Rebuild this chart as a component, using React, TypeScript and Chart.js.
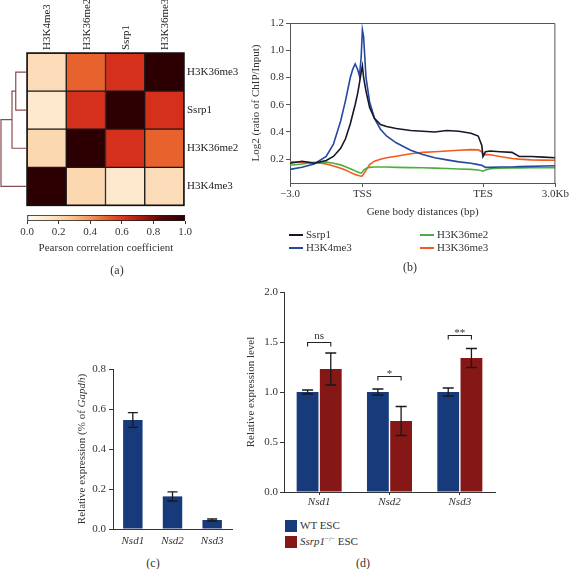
import React, { useEffect, useRef } from 'react';
import { Chart, registerables } from 'chart.js';

Chart.register(...registerables);

const SERIF = "'Liberation Serif', 'DejaVu Serif', serif";
const INK = '#333333';

// ---------- (a) correlation heatmap ----------
const heatColumns = ['H3K4me3', 'H3K36me2', 'Ssrp1', 'H3K36me3'];
const heatRows = ['H3K36me3', 'Ssrp1', 'H3K36me2', 'H3K4me3']; // top to bottom
const corrH3K36me3 = [0.18, 0.5, 0.62, 1.0];
const corrSsrp1 = [0.12, 0.62, 1.0, 0.62];
const corrH3K36me2 = [0.2, 1.0, 0.62, 0.5];
const corrH3K4me3 = [1.0, 0.2, 0.12, 0.18];
const heatMatrix = [corrH3K36me3, corrSsrp1, corrH3K36me2, corrH3K4me3];
// [nodeA, nodeB, height]; leaves 0..3 are rows top-down, merged nodes get 4,5,6
const dendroMerges = [[0, 1, 0.41], [4, 2, 0.56], [5, 3, 1.0]];
const colorbarTicks = [0, 0.2, 0.4, 0.6, 0.8, 1.0];
const cmapPos = [0, 0.15, 0.25, 0.4, 0.5, 0.62, 0.72, 0.85, 1];
const cmapCol = ['#fffaf3', '#fde3c3', '#fbcd9e', '#f3955c', '#e8622e', '#d4301c', '#a91a10', '#5a0508', '#2c0003'];

// ---------- (b) profile plot ----------
const profileX = [0, 0.5, 1.0, 1.5, 1.8, 2.1, 2.3, 2.5, 2.6, 2.7, 2.8, 2.88, 2.95, 3.0, 3.05, 3.15, 3.3, 3.5, 3.75, 4.0, 4.4, 5.0, 5.5, 6.0, 6.5, 7.0, 7.5, 7.8, 7.95, 8.0, 8.1, 8.3, 8.7, 9.2, 9.5, 10.0, 10.5, 11.0];
const ssrp1Profile = [0.17, 0.185, 0.17, 0.19, 0.22, 0.28, 0.35, 0.46, 0.53, 0.6, 0.68, 0.76, 0.84, 0.885, 0.8, 0.7, 0.58, 0.5, 0.455, 0.44, 0.425, 0.41, 0.405, 0.4, 0.41, 0.405, 0.39, 0.37, 0.3, 0.22, 0.255, 0.26, 0.255, 0.25, 0.22, 0.22, 0.215, 0.21];
const h3k4me3Profile = [0.125, 0.14, 0.165, 0.22, 0.31, 0.48, 0.63, 0.8, 0.86, 0.9, 0.86, 0.81, 0.95, 1.15, 1.1, 0.8, 0.62, 0.5, 0.42, 0.37, 0.32, 0.265, 0.235, 0.21, 0.195, 0.18, 0.17, 0.16, 0.155, 0.15, 0.14, 0.14, 0.142, 0.143, 0.145, 0.147, 0.15, 0.152];
const h3k36me2Profile = [0.155, 0.165, 0.175, 0.178, 0.17, 0.158, 0.145, 0.13, 0.122, 0.114, 0.106, 0.1, 0.097, 0.105, 0.12, 0.132, 0.14, 0.143, 0.143, 0.142, 0.14, 0.138, 0.137, 0.134, 0.131, 0.128, 0.125, 0.12, 0.115, 0.112, 0.12, 0.13, 0.133, 0.135, 0.136, 0.137, 0.138, 0.138];
const h3k36me3Profile = [0.18, 0.178, 0.175, 0.165, 0.15, 0.133, 0.12, 0.103, 0.095, 0.088, 0.082, 0.078, 0.075, 0.078, 0.09, 0.118, 0.16, 0.185, 0.2, 0.21, 0.222, 0.24, 0.25, 0.255, 0.26, 0.265, 0.27, 0.268, 0.255, 0.225, 0.235, 0.232, 0.22, 0.205, 0.2, 0.195, 0.193, 0.192];
const profileNames = ['Ssrp1', 'H3K4me3', 'H3K36me2', 'H3K36me3'];
const profileValues = [ssrp1Profile, h3k4me3Profile, h3k36me2Profile, h3k36me3Profile];
const profileColors = ['#17172b', '#2447a0', '#4cae3e', '#f4591d'];
const profileTickPos = [0, 3, 8, 11];
const profileTickLabels = ['\u22123.0', 'TSS', 'TES', '3.0Kb'];
const profileTickY = [0.2, 0.4, 0.6, 0.8, 1.0, 1.2];

// ---------- (c) ----------
const nsdGenes = ['Nsd1', 'Nsd2', 'Nsd3'];
const relExprGapdh = [0.545, 0.163, 0.045];
const relExprGapdhErr = [0.037, 0.023, 0.005];

// ---------- (d) ----------
const wtLevel = [1.0, 1.0, 1.0];
const wtErr = [0.02, 0.03, 0.04];
const koLevel = [1.23, 0.71, 1.34];
const koErr = [0.16, 0.145, 0.095];
const sigLabels = ['ns', '*', '**'];
const sigLevels = [1.5, 1.165, 1.57];

const BLUE = '#163a7a';
const RED = '#861717';

function hexToRgb(h: string) {
  const n = parseInt(h.slice(1), 16);
  return [(n >> 16) & 255, (n >> 8) & 255, n & 255];
}
function cmap(v: number) {
  for (let i = 1; i < cmapPos.length; i++) {
    if (v <= cmapPos[i]) {
      const t = (v - cmapPos[i - 1]) / (cmapPos[i] - cmapPos[i - 1]);
      const a = hexToRgb(cmapCol[i - 1]);
      const b = hexToRgb(cmapCol[i]);
      return `rgb(${a.map((c, k) => Math.round(c + (b[k] - c) * t)).join(',')})`;
    }
  }
  return cmapCol[cmapCol.length - 1];
}

const base: any = {
  responsive: false,
  animation: false,
  devicePixelRatio: 1,
  events: [],
  plugins: { legend: { display: false }, tooltip: { enabled: false } },
};

const dendroPlugin = {
  id: 'dendro',
  afterDraw(chart: any) {
    const { ctx, chartArea } = chart;
    const y = chart.scales.y;
    const leafX = chartArea.left - 1;
    const rootX = 1;
    const hx = (h: number) => leafX - h * (leafX - rootX);
    const nodes: { x: number; y: number }[] = heatRows.map((_, i) => ({
      x: leafX,
      y: y.getPixelForValue(heatRows.length - 0.5 - i),
    }));
    ctx.save();
    ctx.strokeStyle = '#8a4b4e';
    ctx.lineWidth = 1.2;
    dendroMerges.forEach(([a, b, h]) => {
      const A = nodes[a];
      const B = nodes[b];
      const X = hx(h);
      ctx.beginPath();
      ctx.moveTo(A.x, A.y);
      ctx.lineTo(X, A.y);
      ctx.lineTo(X, B.y);
      ctx.lineTo(B.x, B.y);
      ctx.stroke();
      nodes.push({ x: X, y: (A.y + B.y) / 2 });
    });
    ctx.strokeStyle = '#111';
    ctx.lineWidth = 1.5;
    ctx.strokeRect(chartArea.left, chartArea.top, chartArea.width, chartArea.height);
    ctx.restore();
  },
};

const framePlugin = {
  id: 'frame',
  afterDraw(chart: any) {
    const { ctx, chartArea } = chart;
    ctx.save();
    ctx.strokeStyle = '#555';
    ctx.lineWidth = 1;
    ctx.beginPath();
    ctx.moveTo(chartArea.left, chartArea.top + 0.5);
    ctx.lineTo(chartArea.right - 0.5, chartArea.top + 0.5);
    ctx.lineTo(chartArea.right - 0.5, chartArea.bottom);
    ctx.stroke();
    ctx.restore();
  },
};

function errorBars(errs: number[][], cap: number) {
  return {
    id: 'errbars',
    afterDatasetsDraw(chart: any) {
      const { ctx } = chart;
      const y = chart.scales.y;
      ctx.save();
      ctx.strokeStyle = '#1a1a1a';
      ctx.lineWidth = 1.3;
      chart.data.datasets.forEach((ds: any, di: number) => {
        const meta = chart.getDatasetMeta(di);
        meta.data.forEach((bar: any, i: number) => {
          const v = ds.data[i];
          const e = errs[di][i];
          const yt = y.getPixelForValue(v + e);
          const yb = y.getPixelForValue(v - e);
          ctx.beginPath();
          ctx.moveTo(bar.x, yb);
          ctx.lineTo(bar.x, yt);
          ctx.moveTo(bar.x - cap, yt);
          ctx.lineTo(bar.x + cap, yt);
          ctx.moveTo(bar.x - cap, yb);
          ctx.lineTo(bar.x + cap, yb);
          ctx.stroke();
        });
      });
      ctx.restore();
    },
  };
}

function richYTitle(x: number, segments: { text: string; italic?: boolean }[], size: number) {
  return {
    id: 'richTitle',
    afterDraw(chart: any) {
      const { ctx, chartArea } = chart;
      const font = (s: any) => `${s.italic ? 'italic ' : ''}${size}px ${SERIF}`;
      ctx.save();
      ctx.translate(x, (chartArea.top + chartArea.bottom) / 2);
      ctx.rotate(-Math.PI / 2);
      ctx.fillStyle = INK;
      ctx.textBaseline = 'middle';
      ctx.textAlign = 'left';
      let total = 0;
      segments.forEach((s) => {
        ctx.font = font(s);
        total += ctx.measureText(s.text).width;
      });
      let cx = -total / 2;
      segments.forEach((s) => {
        ctx.font = font(s);
        ctx.fillText(s.text, cx, 0);
        cx += ctx.measureText(s.text).width;
      });
      ctx.restore();
    },
  };
}

const sigPlugin = {
  id: 'sig',
  afterDraw(chart: any) {
    const { ctx } = chart;
    const y = chart.scales.y;
    const m0 = chart.getDatasetMeta(0);
    const m1 = chart.getDatasetMeta(1);
    ctx.save();
    ctx.strokeStyle = '#222';
    ctx.lineWidth = 1.1;
    ctx.fillStyle = INK;
    ctx.textAlign = 'center';
    ctx.textBaseline = 'bottom';
    ctx.font = `11px ${SERIF}`;
    sigLabels.forEach((lab, i) => {
      const x0 = m0.data[i].x;
      const x1 = m1.data[i].x;
      const yy = Math.round(y.getPixelForValue(sigLevels[i])) + 0.5;
      ctx.beginPath();
      ctx.moveTo(x0, yy + 4);
      ctx.lineTo(x0, yy);
      ctx.lineTo(x1, yy);
      ctx.lineTo(x1, yy + 4);
      ctx.stroke();
      ctx.fillText(lab, (x0 + x1) / 2, yy - (lab === 'ns' ? 1 : -3));
    });
    ctx.restore();
  },
};

const abs = (left: number, top: number, extra: any = {}) => ({ position: 'absolute' as const, left, top, ...extra });

export default function App() {
  const heatRef = useRef<HTMLCanvasElement>(null);
  const cbarRef = useRef<HTMLCanvasElement>(null);
  const profRef = useRef<HTMLCanvasElement>(null);
  const cRef = useRef<HTMLCanvasElement>(null);
  const dRef = useRef<HTMLCanvasElement>(null);

  useEffect(() => {
    Chart.defaults.font.family = SERIF;
    Chart.defaults.font.size = 11;
    Chart.defaults.color = INK;
    const charts: Chart[] = [];

    // (a) heatmap
    charts.push(
      new Chart(heatRef.current!, {
        type: 'bar',
        data: {
          labels: heatColumns,
          datasets: heatRows
            .map((_, r) => r)
            .reverse()
            .map((r) => ({
              label: heatRows[r],
              data: heatColumns.map(() => 1),
              backgroundColor: heatMatrix[r].map(cmap),
              borderColor: '#1a1a1a',
              borderWidth: 1,
              borderSkipped: false,
              barPercentage: 1,
              categoryPercentage: 1,
            })),
        },
        options: {
          ...base,
          layout: { padding: { left: 27, right: 0, top: 0, bottom: 3 } },
          scales: {
            x: {
              type: 'category',
              position: 'top',
              stacked: true,
              grid: { display: false, drawTicks: false },
              border: { display: false },
              ticks: { autoSkip: false, minRotation: 90, maxRotation: 90, padding: 3, labelOffset: 14, color: '#222' },
              afterFit: (s: any) => {
                s.height = 53;
              },
            },
            y: {
              type: 'linear',
              position: 'right',
              stacked: true,
              min: 0,
              max: heatRows.length,
              grid: { display: false, drawTicks: false },
              border: { display: false },
              afterBuildTicks: (s: any) => {
                s.ticks = heatRows.map((_, i) => ({ value: heatRows.length - 0.5 - i }));
              },
              ticks: {
                padding: 3,
                color: '#222',
                callback: (v: any) => heatRows[Math.round(heatRows.length - 0.5 - Number(v))],
              },
              afterFit: (s: any) => {
                s.width = 66;
              },
            },
          },
        } as any,
        plugins: [dendroPlugin],
      })
    );

    // colour bar
    charts.push(
      new Chart(cbarRef.current!, {
        type: 'bar',
        data: {
          labels: [''],
          datasets: [
            {
              data: [1],
              backgroundColor: (c: any) => {
                const ch = c.chart;
                const area = ch.chartArea;
                if (!area) return '#fff';
                const g = ch.ctx.createLinearGradient(area.left, 0, area.right, 0);
                cmapPos.forEach((p, i) => g.addColorStop(p, cmapCol[i]));
                return g;
              },
              borderColor: '#1a1a1a',
              borderWidth: 1,
              borderSkipped: false,
              barPercentage: 1,
              categoryPercentage: 1,
            },
          ],
        },
        options: {
          ...base,
          indexAxis: 'y',
          layout: { padding: { left: 27, right: 65, top: 10, bottom: 0 } },
          scales: {
            x: {
              type: 'linear',
              min: 0,
              max: 1,
              afterBuildTicks: (s: any) => {
                s.ticks = colorbarTicks.map((v) => ({ value: v }));
              },
              ticks: { padding: 2, callback: (v: any) => Number(v).toFixed(1) },
              grid: { display: true, drawOnChartArea: false, tickLength: 3, color: '#333' },
              border: { display: false },
              title: { display: true, text: 'Pearson correlation coefficient', padding: { top: 0, bottom: 6 } },
              afterFit: (s: any) => {
                s.height = 40;
              },
            },
            y: { display: false },
          },
        } as any,
      })
    );

    // (b) profile
    charts.push(
      new Chart(profRef.current!, {
        type: 'line',
        data: {
          datasets: profileNames.map((n, k) => ({
            label: n,
            data: profileX.map((x, i) => ({ x, y: profileValues[k][i] })),
            borderColor: profileColors[k],
            borderWidth: 1.6,
            pointRadius: 0,
            tension: 0,
            fill: false,
          })),
        },
        options: {
          ...base,
          layout: { padding: { left: 0, right: 13, top: 23, bottom: 0 } },
          scales: {
            x: {
              type: 'linear',
              min: 0,
              max: 11,
              afterBuildTicks: (s: any) => {
                s.ticks = profileTickPos.map((v) => ({ value: v }));
              },
              ticks: { padding: 1, maxRotation: 0, autoSkip: false, callback: (_v: any, i: number) => profileTickLabels[i] },
              grid: { drawOnChartArea: false, tickLength: 4, color: '#555' },
              border: { color: '#555' },
              title: { display: true, text: 'Gene body distances (bp)', padding: { top: 0, bottom: 3 } },
              afterFit: (s: any) => {
                s.height = 39;
              },
            },
            y: {
              type: 'linear',
              min: 0.025,
              max: 1.2,
              afterBuildTicks: (s: any) => {
                s.ticks = profileTickY.map((v) => ({ value: v }));
              },
              ticks: { padding: 2, callback: (v: any) => Number(v).toFixed(1) },
              grid: { drawOnChartArea: false, tickLength: 4, color: '#555' },
              border: { color: '#555' },
              title: { display: true, text: 'Log2 (ratio of ChIP/Input)', padding: { top: 0, bottom: 0 } },
              afterFit: (s: any) => {
                s.width = 40;
              },
            },
          },
        } as any,
        plugins: [framePlugin],
      })
    );

    // (c)
    charts.push(
      new Chart(cRef.current!, {
        type: 'bar',
        data: {
          labels: nsdGenes,
          datasets: [
            { data: relExprGapdh, backgroundColor: BLUE, barPercentage: 0.49, categoryPercentage: 1 },
          ],
        },
        options: {
          ...base,
          layout: { padding: { left: 0, right: 8, top: 14, bottom: 0 } },
          scales: {
            x: {
              grid: { display: false, drawTicks: false },
              border: { color: '#333' },
              ticks: { padding: 6, font: { style: 'italic', size: 11 } },
              afterFit: (s: any) => {
                s.height = 22;
              },
            },
            y: {
              min: 0,
              max: 0.8,
              ticks: { stepSize: 0.2, padding: 3, callback: (v: any) => Number(v).toFixed(1) },
              grid: { drawOnChartArea: false, tickLength: 4, color: '#333' },
              border: { color: '#333' },
              afterFit: (s: any) => {
                s.width = 38;
              },
            },
          },
        } as any,
        plugins: [
          errorBars([relExprGapdhErr], 5),
          richYTitle(7, [{ text: 'Relative expression (% of ' }, { text: 'Gapdh', italic: true }, { text: ')' }], 11),
        ],
      })
    );

    // (d)
    charts.push(
      new Chart(dRef.current!, {
        type: 'bar',
        data: {
          labels: nsdGenes,
          datasets: [
            { label: 'WT ESC', data: wtLevel, backgroundColor: BLUE, barPercentage: 0.94, categoryPercentage: 0.66 },
            { label: 'Ssrp1-/- ESC', data: koLevel, backgroundColor: RED, barPercentage: 0.94, categoryPercentage: 0.66 },
          ],
        },
        options: {
          ...base,
          layout: { padding: { left: 0, right: 10, top: 12, bottom: 0 } },
          scales: {
            x: {
              grid: { display: true, drawOnChartArea: false, offset: false, tickLength: 3, color: '#333' },
              border: { color: '#333' },
              ticks: { padding: 1, font: { style: 'italic', size: 11 } },
              afterFit: (s: any) => {
                s.height = 23;
              },
            },
            y: {
              min: 0,
              max: 2,
              ticks: { stepSize: 0.5, padding: 2, callback: (v: any) => Number(v).toFixed(1) },
              grid: { drawOnChartArea: false, tickLength: 4, color: '#333' },
              border: { color: '#333' },
              title: { display: true, text: 'Relative expression level', padding: { top: 5, bottom: 0 } },
              afterFit: (s: any) => {
                s.width = 44;
              },
            },
          },
        } as any,
        plugins: [errorBars([wtErr, koErr], 5.5), sigPlugin],
      })
    );

    return () => charts.forEach((c) => c.destroy());
  }, []);

  const txt = { fontFamily: SERIF, fontSize: 11, color: INK, lineHeight: '13px', whiteSpace: 'nowrap' as const };
  const panelLabel = (s: string, x: number, y: number) => (
    <div style={abs(x, y, { ...txt, fontSize: 12, transform: 'translate(-50%, -50%)' })}>{s}</div>
  );

  return (
    <div style={{ position: 'absolute', left: 0, top: 0, width: 570, height: 569, background: '#fff', overflow: 'hidden' }}>
      <canvas ref={heatRef} width={250} height={215} style={abs(0, 0, { width: 250, height: 215 })} />
      <canvas ref={cbarRef} width={250} height={56} style={abs(0, 205, { width: 250, height: 56 })} />
      <canvas ref={profRef} width={320} height={222} style={abs(250, 0, { width: 320, height: 222 })} />
      <canvas ref={cRef} width={165} height={196} style={abs(75, 355, { width: 165, height: 196 })} />
      <canvas ref={dRef} width={265} height={235} style={abs(240, 280, { width: 265, height: 235 })} />

      {profileNames.map((n, i) => {
        const col = Math.floor(i / 2);
        const row = i % 2;
        const x = [289, 420][col];
        const y = [235, 248][row];
        return (
          <React.Fragment key={n}>
            <div style={abs(x, y - 1, { width: 14, height: 2, background: profileColors[i] })} />
            <div style={abs(x + 17, y - 7, txt)}>{n}</div>
          </React.Fragment>
        );
      })}

      <div style={abs(285, 520, { width: 12, height: 12, background: BLUE })} />
      <div style={abs(300, 519, txt)}>WT ESC</div>
      <div style={abs(285, 536, { width: 12, height: 12, background: RED })} />
      <div style={abs(300, 535, txt)}>
        <i>Ssrp1</i>
        <sup style={{ fontSize: 7, verticalAlign: 'top', lineHeight: '9px' }}>{'\u2212/\u2212'}</sup> ESC
      </div>

      {panelLabel('(a)', 117, 270)}
      {panelLabel('(b)', 410, 267)}
      {panelLabel('(c)', 153, 563)}
      {panelLabel('(d)', 363, 563)}
    </div>
  );
}
